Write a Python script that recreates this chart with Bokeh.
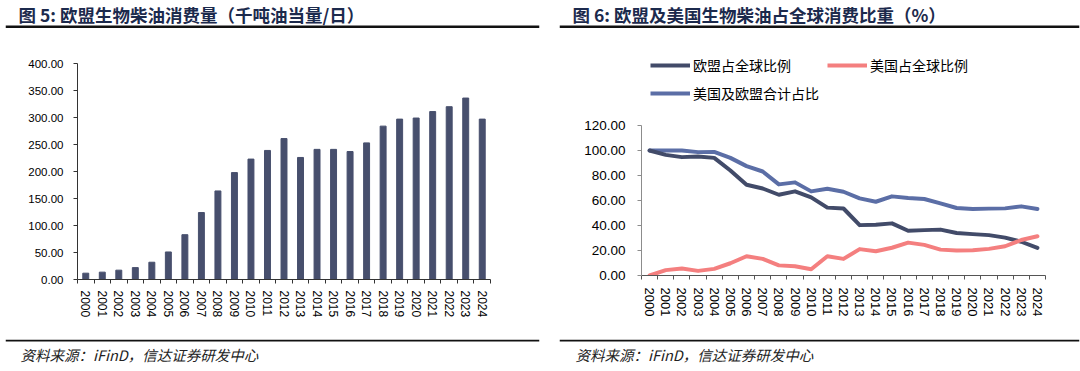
from bokeh.plotting import figure
from bokeh.models import (Label, Legend, LegendItem, FixedTicker, Span,
                          NumeralTickFormatter, Range1d)
from bokeh.layouts import row, column
from bokeh.embed import file_html
from bokeh.resources import INLINE

# ---------------- data ----------------
years = [str(y) for y in range(2000, 2025)]

eu_consumption = [11.7, 13.6, 17.3, 22.0, 32.0, 51.0, 83.0, 124.0, 164.0, 198.0,
                  223.0, 239.0, 261.0, 226.0, 241.0, 241.0, 237.0, 253.0, 284.0,
                  297.0, 299.0, 311.0, 320.0, 336.0, 297.0]

eu_share = [100.0, 96.5, 94.7, 95.2, 94.1, 84.0, 72.6, 69.6, 64.6, 67.3, 62.5,
            54.3, 53.6, 40.3, 40.6, 41.7, 35.8, 36.3, 36.7, 34.0, 33.1, 32.3,
            30.3, 27.0, 22.1]
us_share = [0.0, 4.3, 5.6, 3.7, 5.3, 9.8, 15.4, 13.3, 8.1, 7.4, 5.0, 15.4, 13.3,
            21.1, 19.4, 22.2, 26.3, 24.5, 20.7, 20.0, 20.2, 21.3, 23.4, 28.4, 31.4]
total_share = [100.0, 100.0, 100.0, 98.7, 98.9, 94.1, 87.5, 83.2, 72.9, 74.5, 67.3,
               69.4, 67.0, 61.7, 59.0, 63.3, 62.0, 61.2, 57.7, 54.0, 53.2, 53.5,
               53.7, 55.3, 53.2]

title_left = "图 5: 欧盟生物柴油消费量（千吨油当量/日）"
title_right = "图 6: 欧盟及美国生物柴油占全球消费比重（%）"
source_text = "资料来源：iFinD，信达证券研发中心"
legend_labels = ["欧盟占全球比例", "美国占全球比例", "美国及欧盟合计占比"]

# ---------------- styles ----------------
TITLE_C = "#1c2a4d"
BAR_C = "#474f6d"
EU_C = "#424b69"
US_C = "#f47f7f"
TOT_C = "#5b6ea6"
RULE_C = "#111111"
CJK = "Noto Sans CJK SC"
LAT = "Liberation Sans"

PW = 540
idx = list(range(len(years)))
NAN = float("nan")


def strip_fig(h, left=0, right=0):
    p = figure(width=PW, height=h, x_range=Range1d(0, 1), y_range=Range1d(0, h),
               x_axis_location=None, y_axis_location=None, min_border=0,
               min_border_left=left, min_border_right=right,
               toolbar_location=None, output_backend="svg", outline_line_color=None,
               frame_align=False)
    p.grid.visible = False
    return p


def header_fig(text, x_text, rule_left):
    p = strip_fig(28, rule_left, 1)
    p.add_layout(Span(location=1.5, dimension="width", line_color=RULE_C, line_width=3))
    p.add_layout(Label(x=x_text - rule_left, y=14, x_units="screen", text=text,
                       text_font=CJK, text_font_style="bold", text_font_size="17.5px",
                       text_color=TITLE_C, text_baseline="middle"))
    return p


def footer_fig(x_text, rule_left):
    p = strip_fig(32, rule_left, 1)
    p.add_layout(Span(location=31, dimension="width", line_color=RULE_C, line_width=2))
    p.add_layout(Label(x=x_text - rule_left, y=17, x_units="screen", text=source_text,
                       text_font=CJK, text_font_style="italic", text_font_size="14.5px",
                       text_color="#222222", text_baseline="middle"))
    return p


def style_cat_axis(p, size, standoff, color):
    p.xaxis.ticker = FixedTicker(ticks=idx, minor_ticks=[i - 0.5 for i in range(len(years) + 1)])
    p.xaxis.major_label_overrides = {i: y for i, y in enumerate(years)}
    p.xaxis.major_label_orientation = "vertical"
    p.xaxis.major_tick_out = 0
    p.xaxis.major_tick_in = 0
    p.xaxis.minor_tick_out = 4
    p.xaxis.minor_tick_in = 0
    p.xaxis.minor_tick_line_color = color
    p.xaxis.axis_line_color = color
    p.xaxis.major_label_text_font = LAT
    p.xaxis.major_label_text_font_size = size
    p.xaxis.major_label_text_color = "#000000"
    p.xaxis.major_label_standoff = standoff


def style_y_axis(p, size, standoff, color):
    p.yaxis.formatter = NumeralTickFormatter(format="0.00")
    p.yaxis.minor_tick_line_color = None
    p.yaxis.major_tick_out = 4
    p.yaxis.major_tick_in = 0
    p.yaxis.axis_line_color = color
    p.yaxis.major_tick_line_color = color
    p.yaxis.major_label_text_font = LAT
    p.yaxis.major_label_text_font_size = size
    p.yaxis.major_label_text_color = "#000000"
    p.yaxis.major_label_standoff = standoff


# ---------------- left chart ----------------
pl = figure(width=PW, height=311, x_range=Range1d(-0.5, len(years) - 0.5),
            y_range=Range1d(0, 400), toolbar_location=None, output_backend="svg",
            min_border_left=77, min_border_right=50, min_border_top=35,
            min_border_bottom=60, outline_line_color=None, frame_align=False)
pl.grid.visible = False
pl.vbar(x=idx, top=eu_consumption, width=0.36, color=BAR_C)
pl.yaxis.ticker = FixedTicker(ticks=[0, 50, 100, 150, 200, 250, 300, 350, 400])
style_cat_axis(pl, "12px", 7, "#333333")
style_y_axis(pl, "11.5px", 10, "#333333")

# ---------------- right legend ----------------
pg = strip_fig(80)
g1 = pg.line(x=[NAN], y=[NAN], line_color=EU_C, line_width=4)
g2 = pg.line(x=[NAN], y=[NAN], line_color=US_C, line_width=4)
g3 = pg.line(x=[NAN], y=[NAN], line_color=TOT_C, line_width=4)
leg_kw = dict(orientation="horizontal", padding=0, margin=0, glyph_width=40,
              glyph_height=20, label_height=20, label_standoff=3, spacing=36,
              label_text_font=CJK, label_text_font_size="14px",
              label_text_color="#000000", border_line_color=None,
              background_fill_alpha=0)
leg1 = Legend(items=[LegendItem(label=legend_labels[0], renderers=[g1]),
                     LegendItem(label=legend_labels[1], renderers=[g2])],
              location=(110, 33), **leg_kw)
leg2 = Legend(items=[LegendItem(label=legend_labels[2], renderers=[g3])],
              location=(110, 5), **leg_kw)
pg.add_layout(leg1)
pg.add_layout(leg2)

# ---------------- right chart ----------------
pr = figure(width=PW, height=231, x_range=Range1d(-0.5, len(years) - 0.5),
            y_range=Range1d(0, 120), toolbar_location=None, output_backend="svg",
            min_border_left=101, min_border_right=35, min_border_top=17,
            min_border_bottom=64, outline_line_color=None, frame_align=False)
pr.grid.visible = False
pr.line(x=idx, y=total_share, line_color=TOT_C, line_width=4, line_join="round", line_cap="round")
pr.line(x=idx, y=eu_share, line_color=EU_C, line_width=4, line_join="round", line_cap="round")
pr.line(x=idx, y=us_share, line_color=US_C, line_width=4, line_join="round", line_cap="round")
pr.yaxis.ticker = FixedTicker(ticks=[0, 20, 40, 60, 80, 100, 120])
style_cat_axis(pr, "13px", 8, "#555555")
style_y_axis(pr, "13.5px", 12, "#8c8c8c")

left = column(header_fig(title_left, 18, 5), pl, footer_fig(20, 5))
right = column(header_fig(title_right, 32, 19), pg, pr, footer_fig(35, 19))
layout = row(left, right, spacing=0)

open("out.html", "w").write(file_html(layout, INLINE))
